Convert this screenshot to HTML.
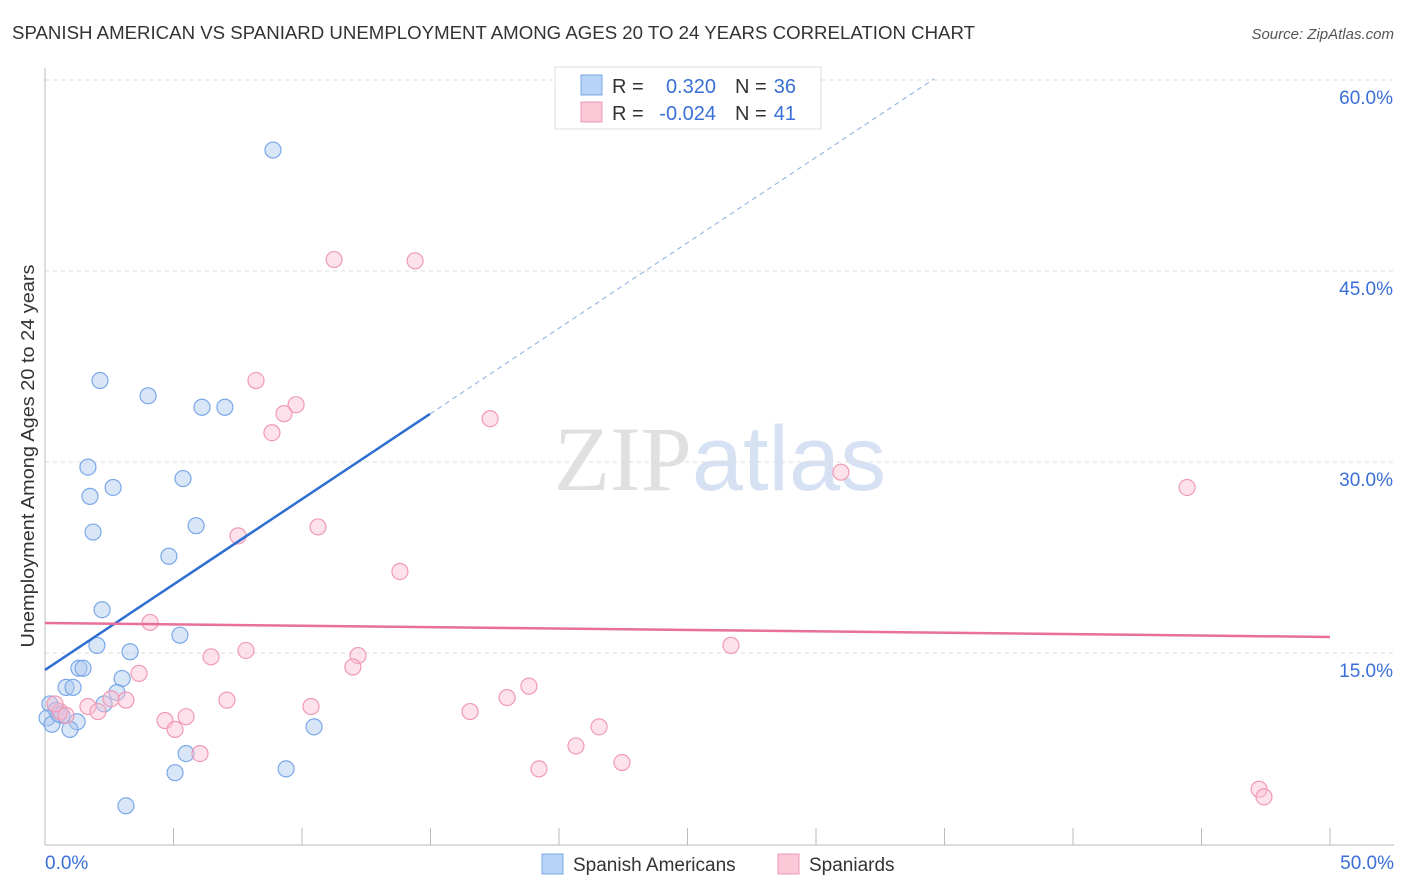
<!DOCTYPE html>
<html><head><meta charset="utf-8"><style>
body{margin:0;background:#fff;font-family:"Liberation Sans",sans-serif;}
svg{display:block}
</style></head><body>
<svg id="chart" width="1406" height="892" xmlns="http://www.w3.org/2000/svg">
<text x="12" y="39" font-size="18" fill="#333" textLength="963" lengthAdjust="spacingAndGlyphs">SPANISH AMERICAN VS SPANIARD UNEMPLOYMENT AMONG AGES 20 TO 24 YEARS CORRELATION CHART</text>
<text x="1394" y="39" font-size="15" fill="#555" text-anchor="end" font-style="italic">Source: ZipAtlas.com</text>
<text x="720" y="490" font-size="92" text-anchor="middle" fill="#e0e0e0" font-family="Liberation Serif">ZIP<tspan fill="#d6e2f3" font-family="Liberation Sans">atlas</tspan></text>
<text transform="translate(34,456) rotate(-90)" font-size="18" fill="#333" text-anchor="middle" textLength="383" lengthAdjust="spacingAndGlyphs">Unemployment Among Ages 20 to 24 years</text>
<g id="grid"></g><g id="marks"></g>
<g>
<rect x="555" y="67" width="266" height="62" fill="#fff" stroke="#ddd"/>
<rect x="581" y="75" width="21" height="20" fill="#b8d3f5" stroke="#7aa8e8"/>
<rect x="581" y="102" width="21" height="20" fill="#fbc8d8" stroke="#f09ab5"/>
<text x="612" y="93" font-size="20" fill="#333">R =</text><text x="716" y="93" font-size="20" fill="#3a6fd8" text-anchor="end">0.320</text>
<text x="735" y="93" font-size="20" fill="#333">N =</text><text x="796" y="93" font-size="20" fill="#3a6fd8" text-anchor="end">36</text>
<text x="612" y="120" font-size="20" fill="#333">R =</text><text x="716" y="120" font-size="20" fill="#3a6fd8" text-anchor="end">-0.024</text>
<text x="735" y="120" font-size="20" fill="#333">N =</text><text x="796" y="120" font-size="20" fill="#3a6fd8" text-anchor="end">41</text>
</g>
<g>
<rect x="542" y="854" width="21" height="20" fill="#b8d3f5" stroke="#7aa8e8"/>
<text x="573" y="871" font-size="19" fill="#333">Spanish Americans</text>
<rect x="778" y="854" width="21" height="20" fill="#fbc8d8" stroke="#f09ab5"/>
<text x="809" y="871" font-size="19" fill="#333">Spaniards</text>
</g>
</svg>
<script>
const blueX=[8.87,2.14,4.01,6.11,7.00,1.67,1.75,2.65,5.37,1.87,5.88,4.82,2.22,2.02,5.25,3.31,1.32,1.48,0.82,1.09,3.00,2.80,2.30,0.19,0.43,0.66,0.08,0.27,1.25,0.97,5.49,5.06,9.38,10.47,3.15,0.54];
const blueY=[54.5,36.4,35.2,34.3,34.3,29.6,27.3,28.0,28.7,24.5,25.0,22.6,18.4,15.6,16.4,15.1,13.8,13.8,12.3,12.3,13.0,11.9,11.0,11.0,10.5,10.1,9.9,9.4,9.6,9.0,7.1,5.6,5.9,9.2,3.0,10.2];
const pinkX=[11.25,14.40,8.21,9.77,9.30,8.83,17.32,30.97,44.44,10.62,7.51,13.81,4.09,26.69,7.82,6.46,12.18,11.98,3.66,18.83,3.15,7.08,1.67,2.57,10.35,2.06,16.54,4.67,5.49,5.06,17.98,21.56,0.58,20.66,6.03,19.22,22.45,47.24,47.43,0.82,0.39];
const pinkY=[45.9,45.8,36.4,34.5,33.8,32.3,33.4,29.2,28.0,24.9,24.2,21.4,17.4,15.6,15.2,14.7,14.8,13.9,13.4,12.4,11.3,11.3,10.8,11.4,10.8,10.4,10.4,9.7,10.0,9.0,11.5,9.2,10.4,7.7,7.1,5.9,6.4,4.3,3.7,10.1,11.0];
const yTicks=[15,30,45,60];
const yTickLabels=["15.0%","30.0%","45.0%","60.0%"];
const blueTrend=[13.67,1.342]; // intercept, slope
const pinkTrend=[17.36,16.26]; // y at 0, y at 50
const NS="http://www.w3.org/2000/svg";
const sx=v=>45+v*25.7, sy=v=>844-v*12.733;
function mk(tag,attrs,parent){const e=document.createElementNS(NS,tag);for(const k in attrs)e.setAttribute(k,attrs[k]);parent.appendChild(e);return e;}
const grid=document.getElementById('grid'), marks=document.getElementById('marks');
yTicks.forEach((t,i)=>{
 const l=mk('line',{x1:45,x2:1394,y1:sy(t),y2:sy(t),stroke:'#ddd','stroke-dasharray':'4,4'},grid);
 
 
 const tx=mk('text',{x:1393,y:sy(t)+24,'font-size':19,fill:'#3a6fd8','text-anchor':'end'},grid);
 tx.textContent=yTickLabels[i];
 
 
});
const ax=mk('line',{x1:45,x2:1394,y1:845,y2:845,stroke:'#bbb'},grid);


const ay=mk('line',{x1:45,x2:45,y1:68,y2:845,stroke:'#bbb'},grid);


for(let i=0;i<=10;i++){const t=mk('line',{x1:sx(i*5),x2:sx(i*5),y1:828,y2:845,stroke:'#bbb'},grid);
 
 }
const xl0=mk('text',{x:45,y:869,'font-size':19,fill:'#3a6fd8'},grid);xl0.textContent='0.0%';


const xl1=mk('text',{x:1394,y:869,'font-size':19,fill:'#3a6fd8','text-anchor':'end'},grid);xl1.textContent='50.0%';


blueX.forEach((x,i)=>{const c=mk('circle',{cx:sx(x),cy:sy(blueY[i]),r:8,fill:'rgba(170,200,240,0.45)',stroke:'#7aa8e8','stroke-width':1.2},marks);
 
 });
pinkX.forEach((x,i)=>{const c=mk('circle',{cx:sx(x),cy:sy(pinkY[i]),r:8,fill:'rgba(250,190,210,0.45)',stroke:'#f09ab5','stroke-width':1.2},marks);
 
 });
const bx1=14.98,bx2=34.6;
const bl=mk('line',{x1:sx(0),y1:sy(blueTrend[0]),x2:sx(bx1),y2:sy(blueTrend[0]+blueTrend[1]*bx1),stroke:'#2f6fd0','stroke-width':2.5},marks);


const bd=mk('line',{x1:sx(bx1),y1:sy(blueTrend[0]+blueTrend[1]*bx1),x2:sx(bx2),y2:sy(blueTrend[0]+blueTrend[1]*bx2),stroke:'#9bb8e6','stroke-width':1.2,'stroke-dasharray':'5,4'},marks);


const pl=mk('line',{x1:sx(0),y1:sy(pinkTrend[0]),x2:sx(50),y2:sy(pinkTrend[1]),stroke:'#e8709a','stroke-width':2.5},marks);


</script>
</body></html>
